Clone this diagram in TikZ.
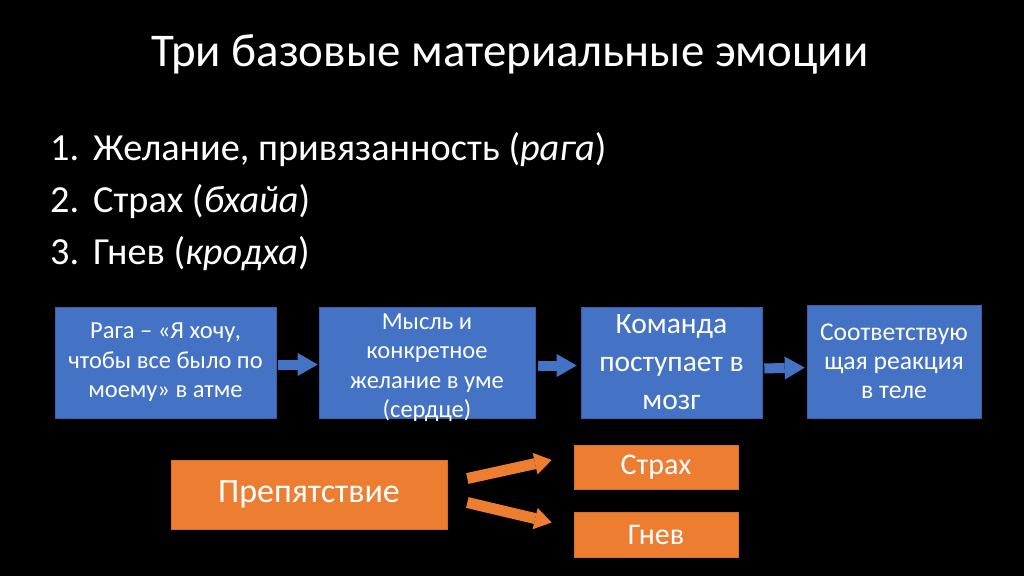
\documentclass[tikz,border=0pt]{standalone}
\usepackage{fontspec}
\setmainfont{Carlito}
\usetikzlibrary{arrows.meta, positioning, calc}
\definecolor{slideblue}{HTML}{4472C4}
\definecolor{slideorange}{HTML}{ED7D31}
\tikzset{
  stage/.style={
    rectangle, fill=slideblue, draw=slideblue!85!black, line width=0.6pt,
    text=white, align=center, inner sep=0pt,
    font=\fontsize{24.5}{29.5}\selectfont,
  },
  stage text/.style={
    text=white, align=center, inner sep=0pt,
    font=\fontsize{24.5}{29.5}\selectfont,
  },
  stage big/.style={stage, font=\fontsize{29.5}{38}\selectfont},
  stage wide/.style={stage, font=\fontsize{25.6}{29}\selectfont},
  obstacle/.style={
    rectangle, fill=slideorange, draw=slideorange!90!black, line width=0.6pt,
    text=white, align=center, inner sep=0pt,
    font=\fontsize{34}{40}\selectfont,
  },
  outcome/.style={obstacle, font=\fontsize{30}{36}\selectfont},
  flow/.style={
    line width=10pt, draw=slideblue,
    -{Triangle[length=20pt, width=23pt, line width=0pt]},
  },
  split/.style={
    line width=11pt, draw=slideorange,
    -{Triangle[length=17pt, width=22pt, line width=0pt]},
  },
  heading/.style={text=white, anchor=base, font=\fontsize{46.9}{54}\selectfont},
  item/.style={text=white, anchor=base west, inner sep=0pt,
    font=\fontsize{38.3}{46}\selectfont},
}

\begin{document}
\begin{tikzpicture}[x=1pt, y=-1pt]

  \fill[black] (0,0) rectangle (1024,576);
  \useasboundingbox (0,0) rectangle (1024,576);

  \node[heading] (title) at (510,66) {Три базовые материальные эмоции};

  \foreach \n/\txt in {1/{Желание, привязанность (\textit{рага})},
                       2/{Страх (\textit{бхайа})},
                       3/{Гнев (\textit{кродха})}} {
    \node[item] (num\n) at (50, 108+52*\n) {\n.};
    \node[item] (item\n) at (93, 108+52*\n) {\txt};
  }

  % blue chain
  \node[stage, minimum width=221pt, minimum height=111pt] (wish) at (165.5,362.5)
    {Рага – «Я хочу,\\чтобы все было по\\моему» в атме};
  \node[stage, minimum width=216pt, minimum height=111pt,
    label={[stage text, yshift=-5pt]center:{Мысль и\\конкретное\\желание в уме\\(сердце)}}]
    (mind) at (427,362.5) {};
  \node[stage big, minimum width=181pt, minimum height=111pt] (brain) at (671.5,362.5)
    {Команда\\поступает в\\мозг};
  \node[stage wide, minimum width=174pt, minimum height=113pt] (body) at (894,361.5)
    {Соответствую\\щая реакция\\в теле};

  \draw[flow, shorten <=2pt, shorten >=1pt]
    ([yshift=-2pt]wish.east) -- ([yshift=-2pt]mind.west);
  \draw[flow, shorten <=3pt, shorten >=4pt]
    ([yshift=-3pt]mind.east) -- ([yshift=-3pt]brain.west);
  \draw[flow, shorten <=2pt, shorten >=2pt]
    ([yshift=-6pt]brain.east) -- ([yshift=-6pt]body.west);

  % orange split
  \node[obstacle, minimum width=276pt, minimum height=69pt] (block) at (309,494.5)
    {Препятствие};
  \node[outcome, minimum width=164pt, minimum height=44pt] (fear) at (656,467)
    {Страх};
  \node[outcome, minimum width=164pt, minimum height=45pt] (anger) at (656,534.5)
    {Гнев};

  \draw[split] ($(block.east)+(20,-16)$) -- ($(fear.west)+(-22,-7)$);
  \draw[split] ($(block.east)+(20,8)$) -- ($(anger.west)+(-22,-12)$);

\end{tikzpicture}
\end{document}
